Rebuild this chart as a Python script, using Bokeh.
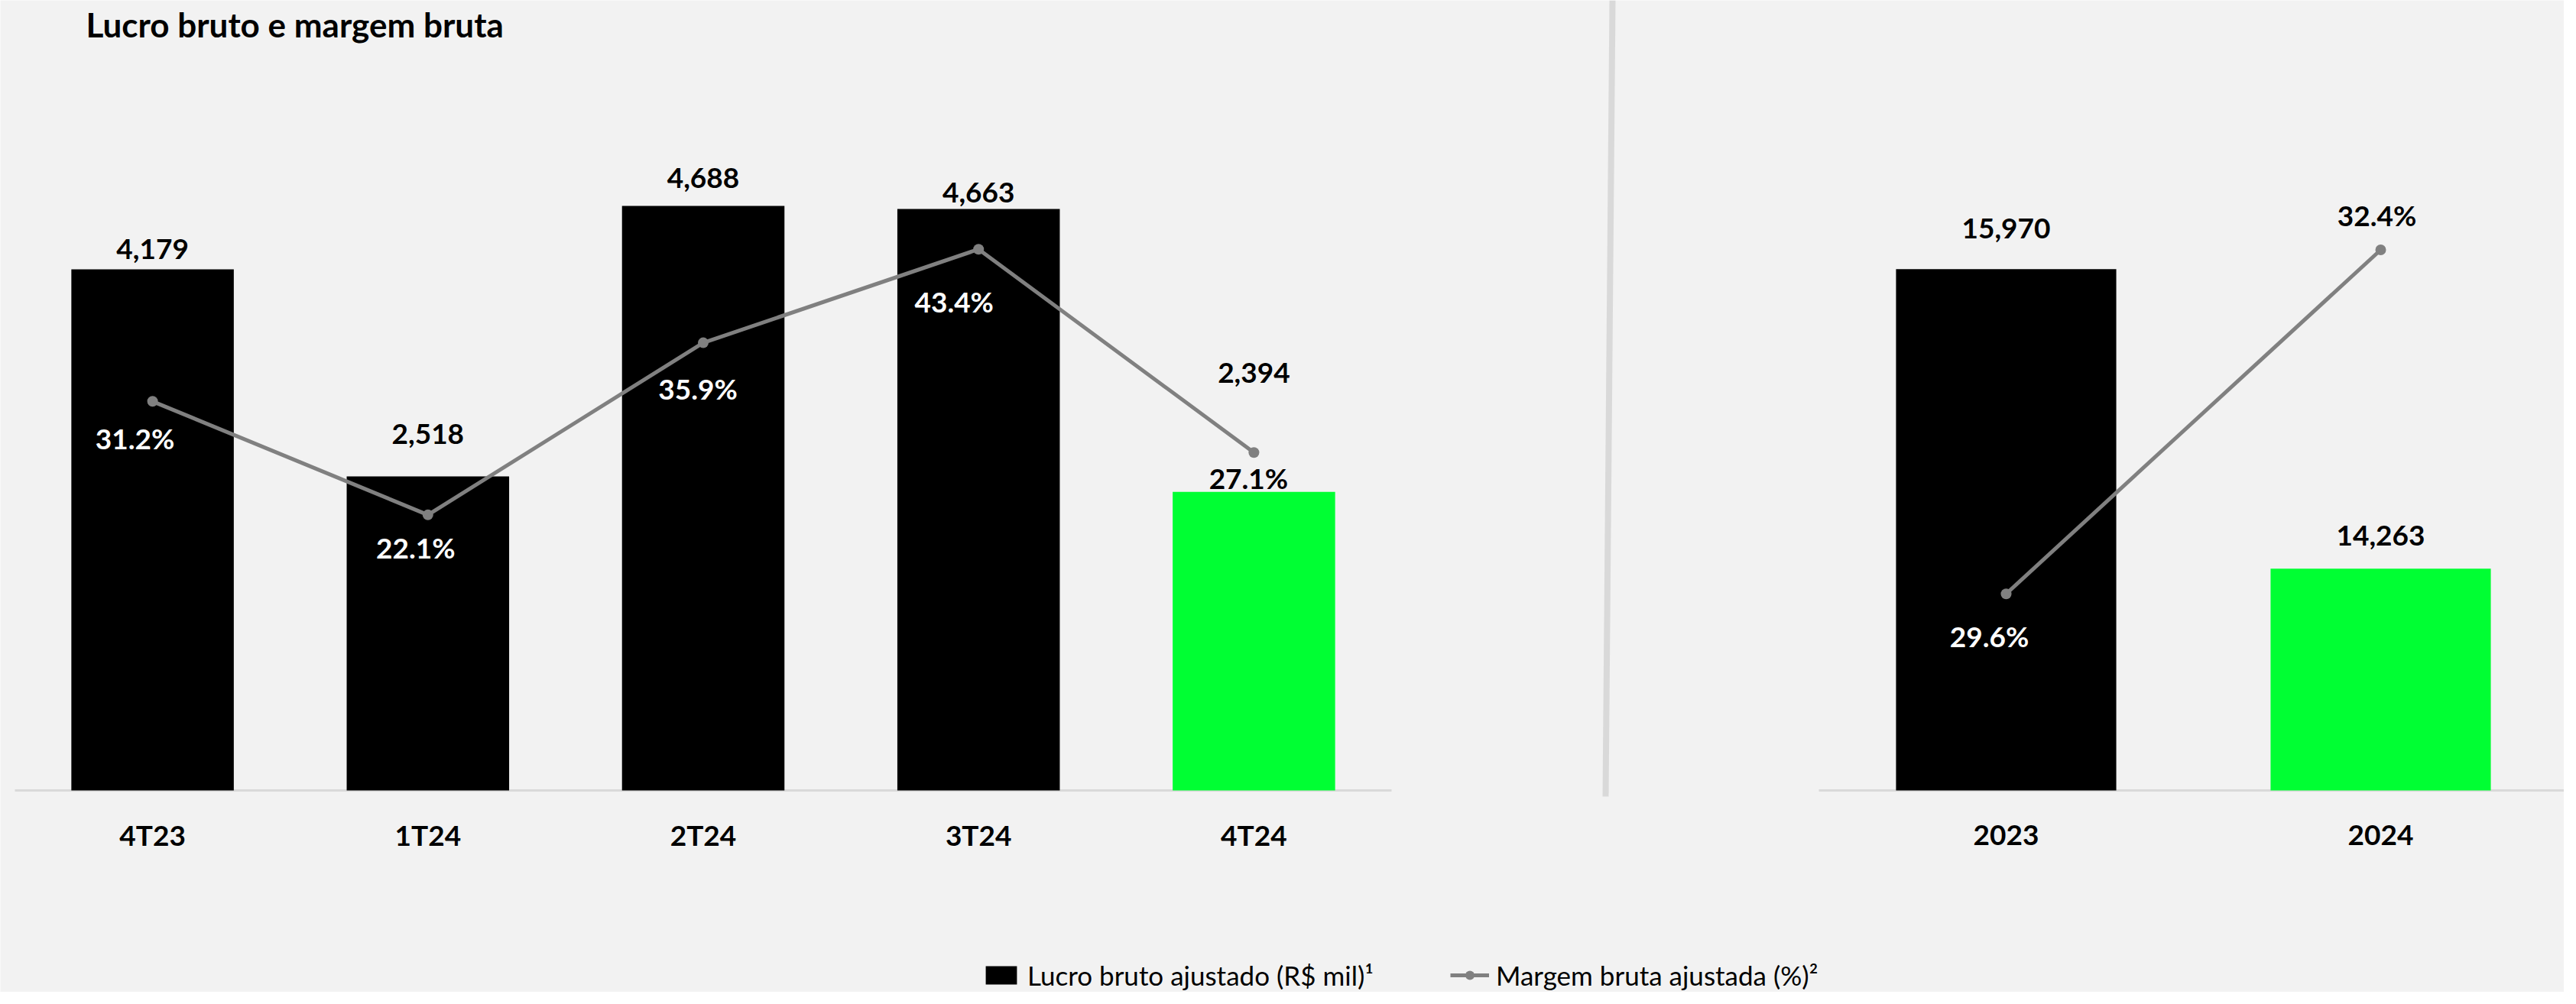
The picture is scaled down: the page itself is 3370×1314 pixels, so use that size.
import numpy as np
from bokeh.plotting import figure
from bokeh.models import (ColumnDataSource, Range1d, Label, Legend, LegendItem,
                          PolyAnnotation)
from bokeh.core.properties import value
from bokeh.embed import file_html
from bokeh.resources import INLINE

# ---------------- data ----------------
quarters = ["4T23", "1T24", "2T24", "3T24", "4T24"]
lucro_trim = [4179, 2518, 4688, 4663, 2394]          # R$ mil
margem_trim = [31.2, 22.1, 35.9, 43.4, 27.1]         # %
years = ["2023", "2024"]
lucro_ano = [15970, 14263]
margem_ano = [29.6, 32.4]

title_text = "Lucro bruto e margem bruta"
legend_bar = "Lucro bruto ajustado (R$ mil)\u00b9"
legend_line = "Margem bruta ajustada (%)\u00b2"

# axis limits used by the original chart
left_bar_axis = (0, 5000)
left_pct_axis = (0, 50)
right_bar_axis = (13000, 16500)
right_pct_axis = (28, 33)

# ---------------- styles ----------------
BG = "#f2f2f2"
BLACK = "#000000"
GREEN = "#00FF33"
GRAY = "#808080"
AXIS = "#d9d9d9"
FONT = "Lato"

left_bar_colors = [BLACK, BLACK, BLACK, BLACK, GREEN]
right_bar_colors = [BLACK, GREEN]
left_pct_colors = ["white", "white", "white", "white", BLACK]
right_pct_colors = ["white", BLACK]

# label placement (pixels): bar label centre above bar top; pct label centre offsets from point
left_bar_gap = [26, 56, 36, 21, 156]
right_bar_gap = [53, 43]
left_pct_dx = [-23, -16, -7, -32, -7]
left_pct_dy = [48, 43, 60, 68, 33]
right_pct_dx = [-22, -5]
right_pct_dy = [55, -45]
CAT_DY = 58

# ---------------- layout (picture pixels) ----------------
W, H = 3354, 1298
LEFT_X = (19, 1820)
RIGHT_X = (2379, 3359)
BASE_Y = 1034
LEFT_TOP = 218
RIGHT_TOP = 230


def x_range_for(n, px0, px1):
    slot = (px1 - px0) / n
    return Range1d(start=(0 - px0) / slot - 0.5, end=(W - px0) / slot - 0.5)


def y_range_for(lo, hi, base_py, top_py):
    scale = (base_py - top_py) / (hi - lo)
    return Range1d(start=lo - (H - base_py) / scale, end=lo + base_py / scale)


p = figure(width=W, height=H,
           x_range=x_range_for(len(quarters), *LEFT_X),
           y_range=y_range_for(*left_bar_axis, BASE_Y, LEFT_TOP),
           output_backend="svg", toolbar_location=None,
           x_axis_location=None, y_axis_location=None, min_border=0,
           background_fill_color=BG, border_fill_color=BG, outline_line_color=None)
p.extra_x_ranges = {"yr": x_range_for(len(years), *RIGHT_X)}
p.extra_y_ranges = {
    "lp": y_range_for(*left_pct_axis, BASE_Y, LEFT_TOP),
    "rb": y_range_for(*right_bar_axis, BASE_Y, RIGHT_TOP),
    "rp": y_range_for(*right_pct_axis, BASE_Y, RIGHT_TOP),
}
p.grid.visible = False

left = ColumnDataSource(dict(
    x=np.arange(len(quarters)), cat=quarters, lucro=lucro_trim, margem=margem_trim,
    color=left_bar_colors, pct_color=left_pct_colors,
    lucro_lbl=[f"{v:,}" for v in lucro_trim],
    pct_lbl=[f"{v:.1f}%" for v in margem_trim],
    bar_dy=[-g for g in left_bar_gap], pct_dx=left_pct_dx, pct_dy=left_pct_dy,
))
right = ColumnDataSource(dict(
    x=np.arange(len(years)), cat=years, lucro=lucro_ano, margem=margem_ano,
    color=right_bar_colors, pct_color=right_pct_colors,
    lucro_lbl=[f"{v:,}" for v in lucro_ano],
    pct_lbl=[f"{v:.1f}%" for v in margem_ano],
    bar_dy=[-g for g in right_bar_gap], pct_dx=right_pct_dx, pct_dy=right_pct_dy,
))

# baselines
p.segment(x0=-0.5, x1=len(quarters) - 0.5, y0=left_bar_axis[0], y1=left_bar_axis[0],
          line_color=AXIS, line_width=3)
p.segment(x0=-0.5, x1=len(years) - 0.5, y0=right_bar_axis[0], y1=right_bar_axis[0],
          line_color=AXIS, line_width=3, x_range_name="yr", y_range_name="rb")

# bars
bar_l = p.vbar(x="x", top="lucro", bottom=left_bar_axis[0], width=0.59,
               fill_color="color", line_color=None, source=left)
p.vbar(x="x", top="lucro", bottom=right_bar_axis[0], width=0.588,
       fill_color="color", line_color=None, source=right,
       x_range_name="yr", y_range_name="rb")

# lines
line_l = p.line(x="x", y="margem", line_color=GRAY, line_width=5, source=left,
                y_range_name="lp")
dots_l = p.scatter(x="x", y="margem", size=14, fill_color=GRAY, line_color=None,
                   source=left, y_range_name="lp")
p.line(x="x", y="margem", line_color=GRAY, line_width=5, source=right,
       x_range_name="yr", y_range_name="rp")
p.scatter(x="x", y="margem", size=14, fill_color=GRAY, line_color=None,
          source=right, x_range_name="yr", y_range_name="rp")

txt = dict(text_font=value(FONT), text_font_style="bold", text_font_size="37px",
           text_align="center", text_baseline="middle")

# value labels
p.text(x="x", y="lucro", text="lucro_lbl", y_offset="bar_dy", text_color=BLACK,
       source=left, **txt)
p.text(x="x", y="lucro", text="lucro_lbl", y_offset="bar_dy", text_color=BLACK,
       source=right, x_range_name="yr", y_range_name="rb", **txt)
p.text(x="x", y="margem", text="pct_lbl", x_offset="pct_dx", y_offset="pct_dy",
       text_color="pct_color", source=left, y_range_name="lp", **txt)
p.text(x="x", y="margem", text="pct_lbl", x_offset="pct_dx", y_offset="pct_dy",
       text_color="pct_color", source=right, x_range_name="yr", y_range_name="rp", **txt)

# category labels
p.text(x="x", y=left_bar_axis[0], text="cat", y_offset=CAT_DY, text_color=BLACK,
       source=left, **txt)
p.text(x="x", y=right_bar_axis[0], text="cat", y_offset=CAT_DY, text_color=BLACK,
       source=right, x_range_name="yr", y_range_name="rb", **txt)

# title
p.add_layout(Label(x=112, y=H - 31, x_units="screen", y_units="screen",
                   text=title_text, text_font=FONT, text_font_style="bold",
                   text_font_size="44px", text_color=BLACK, text_baseline="middle"))

# divider
p.add_layout(PolyAnnotation(
    xs=[2105, 2113, 2104, 2096],
    ys=[H, H, H - 1042, H - 1042],
    xs_units="screen", ys_units="screen",
    fill_color=AXIS, fill_alpha=1.0, line_color=None))

# legend
legend = Legend(items=[LegendItem(label=legend_bar, renderers=[bar_l], index=0),
                       LegendItem(label=legend_line, renderers=[line_l, dots_l])],
                orientation="horizontal", location=(1284, 1),
                glyph_width=51, glyph_height=30, label_standoff=9, spacing=100,
                label_text_font=FONT, label_text_font_size="35px",
                label_text_color=BLACK, label_height=30,
                padding=0, margin=0, border_line_color=None,
                background_fill_alpha=0.0)
p.add_layout(legend)

open("out.html", "w").write(file_html(p, INLINE))
